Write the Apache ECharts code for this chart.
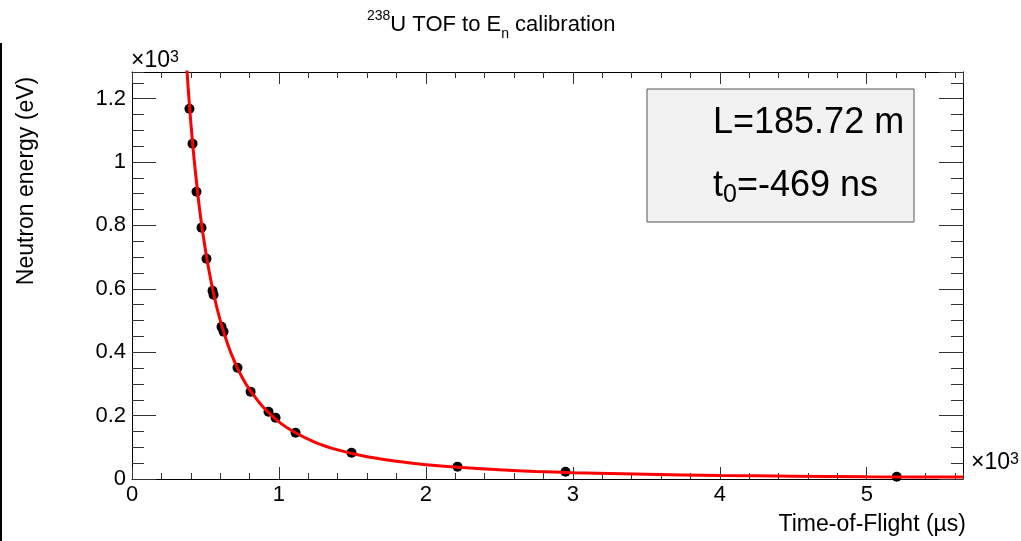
<!DOCTYPE html>
<html>
<head>
<meta charset="utf-8">
<script src="https://cdn.jsdelivr.net/npm/echarts@6/dist/echarts.min.js"></script>
<style>html,body{margin:0;padding:0;background:#fff}#c{width:1021px;height:541px}</style>
</head>
<body>
<div id="c"></div>
<script>
// Measured calibration points (time-of-flight ×10^3 µs, neutron energy ×10^3 eV)
const tofPoints = [0.391,0.412,0.439,0.473,0.507,0.548,0.555,0.609,0.623,0.718,0.807,0.929,0.977,1.113,1.494,2.215,2.950,5.204];
const energyPoints = [1.168,1.058,0.906,0.793,0.695,0.594,0.581,0.480,0.465,0.351,0.275,0.212,0.193,0.146,0.083,0.039,0.023,0.007];
// Fit curve
const curveX = [0.36,0.38,0.40,0.42,0.45,0.48,0.52,0.56,0.60,0.65,0.70,0.75,0.80,0.90,1.00,1.10,1.25,1.40,1.60,1.80,2.00,2.25,2.50,2.75,3.00,3.50,4.00,4.50,5.00,5.655];
const curveY = [1.391,1.248,1.127,1.022,0.890,0.782,0.667,0.575,0.501,0.427,0.368,0.320,0.282,0.223,0.180,0.149,0.115,0.092,0.070,0.056,0.045,0.036,0.029,0.024,0.020,0.015,0.011,0.009,0.007,0.006];
const xMax = 5.655, yMax = 1.284;
const titleText = '{sup|238}{n|U TOF to E}{sub|n}{n| calibration}';
const xTitle = 'Time-of-Flight (\u00b5s)';
const yTitle = 'Neutron energy (eV)';
const fitL = 'L=185.72 m';
const fitT0 = '{n|t}{sub|0}{n|=-469 ns}';

const FONT = 'Liberation Sans, Arial, sans-serif';
const chart = echarts.init(document.getElementById('c'), null, {renderer: 'canvas'});

function xAx(pos, interval, len, labels, line) {
  return {
    type: 'value', position: pos, min: 0, max: xMax, interval: interval,
    axisLine: {show: line, onZero: false, lineStyle: {color: '#000', width: 1}},
    axisTick: {show: true, inside: true, length: len, lineStyle: {color: '#333', width: 1}},
    axisLabel: labels ? {show: true, showMaxLabel: false, margin: 5, fontSize: 22, color: '#000', fontFamily: FONT,
      formatter: v => String(Math.round(v))} : {show: false},
    splitLine: {show: false}
  };
}
function yAx(pos, interval, len, labels, line) {
  return {
    type: 'value', position: pos, min: 0, max: yMax, interval: interval,
    axisLine: {show: line, onZero: false, lineStyle: {color: '#000', width: 1}},
    axisTick: {show: true, inside: true, length: len, lineStyle: {color: '#333', width: 1}},
    axisLabel: labels ? {show: true, showMaxLabel: false, margin: 6, fontSize: 22, color: '#000', fontFamily: FONT,
      formatter: v => (v === 0 ? '0' : String(+v.toFixed(1)))} : {show: false},
    splitLine: {show: false}
  };
}

chart.setOption({
  animation: false,
  backgroundColor: '#fff',
  title: {
    text: titleText, left: 362, top: 4,
    textStyle: {
      fontWeight: 'normal',
      rich: {
        n: {fontSize: 22, fontWeight: 'normal', fontFamily: FONT, color: '#000', lineHeight: 32},
        sup: {fontSize: 14, fontWeight: 'normal', fontFamily: FONT, color: '#000', lineHeight: 14, verticalAlign: 'top'},
        sub: {fontSize: 14, fontWeight: 'normal', fontFamily: FONT, color: '#000', lineHeight: 12, verticalAlign: 'bottom'}
      }
    }
  },
  grid: {left: 132, right: 58, top: 72, bottom: 62, containLabel: false},
  xAxis: [
    xAx('bottom', 1, 12, true, true),
    xAx('bottom', 0.2, 6, false, false),
    xAx('top', 1, 12, false, true),
    xAx('top', 0.2, 6, false, false)
  ],
  yAxis: [
    yAx('left', 0.2, 24, true, true),
    yAx('left', 0.05, 12, false, false),
    yAx('right', 0.2, 24, false, true),
    yAx('right', 0.05, 12, false, false)
  ],
  series: [
    {
      type: 'scatter', xAxisIndex: 0, yAxisIndex: 0,
      data: tofPoints.map((t, i) => [t, energyPoints[i]]),
      symbol: 'circle', symbolSize: 10,
      itemStyle: {color: '#000', opacity: 1}, z: 3
    },
    {
      type: 'line', xAxisIndex: 0, yAxisIndex: 0,
      data: curveX.map((t, i) => [t, curveY[i]]),
      showSymbol: false, smooth: 0.3, clip: true,
      lineStyle: {color: '#ff0000', width: 3}, z: 4
    }
  ],
  graphic: [
    {type: 'line', shape: {x1: 1, y1: 43, x2: 1, y2: 541}, style: {stroke: '#000', lineWidth: 2}},
    {type: 'text', x: 27, y: 181, rotation: Math.PI / 2,
      style: {text: yTitle, fontSize: 23, fontFamily: FONT, fill: '#000', align: 'center', verticalAlign: 'middle'}},
    {type: 'text', x: 966, y: 525,
      style: {text: xTitle, fontSize: 23, fontFamily: FONT, fill: '#000', align: 'right', verticalAlign: 'middle'}},
    {type: 'text', x: 131, y: 61,
      style: {text: '\u00d710{s|3}', fontSize: 23, fontFamily: FONT, fill: '#000', align: 'left', verticalAlign: 'middle',
        rich: {s: {fontSize: 16, fontFamily: FONT, fill: '#000', verticalAlign: 'top', lineHeight: 10}}}},
    {type: 'text', x: 971, y: 463,
      style: {text: '\u00d710{s|3}', fontSize: 23, fontFamily: FONT, fill: '#000', align: 'left', verticalAlign: 'middle',
        rich: {s: {fontSize: 16, fontFamily: FONT, fill: '#000', verticalAlign: 'top', lineHeight: 10}}}},
    {type: 'rect', shape: {x: 647, y: 89, width: 267, height: 133},
      style: {fill: '#f2f2f2', stroke: '#555', lineWidth: 1}, z: 10},
    {type: 'text', x: 713, y: 123, z: 11,
      style: {text: fitL, fontSize: 36, fontFamily: FONT, fill: '#000', align: 'left', verticalAlign: 'middle'}},
    {type: 'text', x: 713, y: 186, z: 11,
      style: {text: fitT0, fontFamily: FONT, align: 'left', verticalAlign: 'middle',
        rich: {
          n: {fontSize: 36, fontFamily: FONT, fill: '#000', lineHeight: 44},
          sub: {fontSize: 25, fontFamily: FONT, fill: '#000', lineHeight: 22, verticalAlign: 'bottom'}
        }}}
  ]
});
</script>
</body>
</html>
